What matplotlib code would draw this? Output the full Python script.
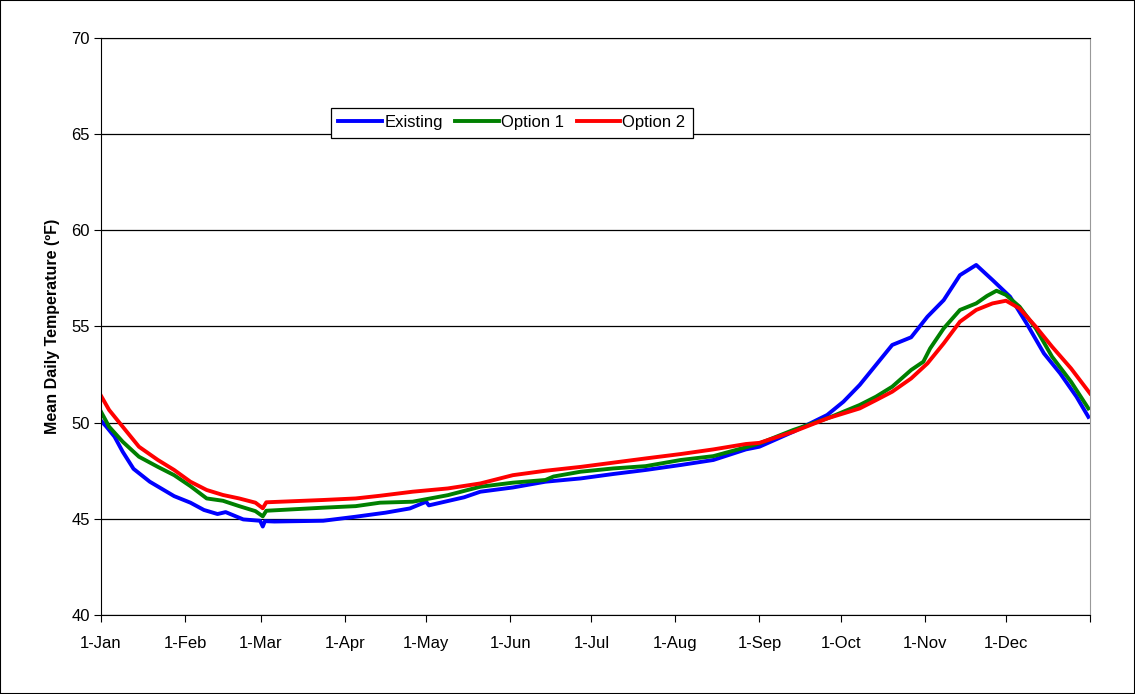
import matplotlib
matplotlib.use("Agg")
import matplotlib.pyplot as plt
from matplotlib.patches import Rectangle

plt.rcParams['font.family'] = ['Liberation Sans', 'DejaVu Sans']

month_days = [0, 31, 59, 90, 120, 151, 181, 212, 243, 273, 304, 334, 365]
month_labels = ["1-Jan", "1-Feb", "1-Mar", "1-Apr", "1-May", "1-Jun", "1-Jul",
                "1-Aug", "1-Sep", "1-Oct", "1-Nov", "1-Dec", ""]

existing_days = [0, 2, 5, 8, 12, 18, 27, 33, 38, 43, 46, 52.5, 58.7, 59.7, 60.5, 64, 82, 94,
                 105, 114, 120, 121, 134, 140, 152, 164, 177, 189, 201, 214, 226, 238, 243,
                 255.5, 268, 274, 280, 286, 292, 299, 305, 311, 317, 323, 329, 335.5, 341.6,
                 348, 354, 360, 364.4]
existing = [50.1, 49.79, 49.27, 48.49, 47.6, 46.93, 46.18, 45.84, 45.46, 45.25, 45.35, 44.97,
            44.9, 44.6, 44.88, 44.86, 44.9, 45.11, 45.32, 45.54, 45.89, 45.7, 46.12, 46.41,
            46.63, 46.93, 47.1, 47.33, 47.54, 47.8, 48.06, 48.61, 48.75, 49.53, 50.4, 51.09,
            51.96, 53.0, 54.04, 54.44, 55.51, 56.37, 57.67, 58.2, 57.42, 56.55, 55.16, 53.6,
            52.56, 51.35, 50.3]

option1_days = [0, 3, 8, 14, 21, 27, 33, 39, 45, 51, 57, 59.7, 61, 82, 94, 103, 115, 128, 140,
                152, 164, 167, 177, 189, 201, 214, 226, 238, 243, 255.5, 268, 280, 286, 292,
                299, 303.5, 306, 311, 317, 323, 327, 330.5, 334, 339, 345, 351, 358, 364.4]
option1 = [50.57, 49.79, 49.01, 48.23, 47.7, 47.27, 46.7, 46.06, 45.94, 45.66, 45.4, 45.13,
           45.42, 45.58, 45.66, 45.84, 45.89, 46.23, 46.67, 46.88, 47.02, 47.2, 47.45, 47.62,
           47.74, 48.06, 48.26, 48.72, 48.92, 49.62, 50.22, 50.92, 51.35, 51.87, 52.74, 53.17,
           53.86, 54.9, 55.86, 56.2, 56.59, 56.86, 56.64, 56.03, 54.9, 53.43, 52.13, 50.74]

option2_days = [0, 3, 8, 14, 21, 27, 33, 39, 45, 51, 57, 59.7, 61, 82, 94, 103, 115, 128, 140,
                152, 164, 177, 189, 201, 214, 226, 238, 243, 255.5, 268, 280, 286, 292, 299,
                305, 311, 317, 323, 329, 334, 339, 345, 351, 358, 365]
option2 = [51.4, 50.66, 49.79, 48.75, 48.06, 47.54, 46.93, 46.5, 46.24, 46.06, 45.84, 45.55,
           45.86, 45.98, 46.06, 46.2, 46.41, 46.58, 46.84, 47.27, 47.5, 47.7, 47.92, 48.14,
           48.37, 48.61, 48.89, 48.95, 49.53, 50.22, 50.74, 51.17, 51.61, 52.3, 53.08, 54.12,
           55.25, 55.86, 56.2, 56.34, 55.94, 54.99, 53.95, 52.82, 51.52]

fig = plt.figure(figsize=(11.35, 6.94), dpi=100)
ax = fig.add_axes([101 / 1135, 1 - 615 / 694, 989 / 1135, 577 / 694])

ax.plot(existing_days, existing, color="#0000ff", lw=2.8, label="Existing")
ax.plot(option1_days, option1, color="#008000", lw=2.8, label="Option 1")
ax.plot(option2_days, option2, color="#ff0000", lw=2.8, label="Option 2")

ax.set_xlim(0, 365)
ax.set_ylim(40, 70)
ax.set_yticks(range(40, 71, 5))
ax.set_xticks(month_days)
ax.set_xticklabels(month_labels)
ax.yaxis.grid(True, color="black", lw=0.9)
ax.set_axisbelow(True)
ax.tick_params(axis="x", direction="out", length=5, pad=10, labelsize=12)
ax.tick_params(axis="y", direction="out", length=5, pad=3, labelsize=12)
for s in ["left", "bottom", "top"]:
    ax.spines[s].set_color("black")
ax.spines["right"].set_color("#999999")
ax.set_ylabel("Mean Daily Temperature (ºF)", fontsize=11.5, fontweight="bold", labelpad=8)

leg = ax.legend(loc="center", bbox_to_anchor=(0.4156, 0.853), ncol=3, fancybox=False,
                edgecolor="black", framealpha=1, fontsize=12, handlelength=2.6,
                handletextpad=0.15, columnspacing=0.75, borderpad=0.45)
leg.get_frame().set_linewidth(0.9)

fig.patches.append(Rectangle((0, 0), 1, 1, transform=fig.transFigure, fill=False,
                             edgecolor="black", lw=1.5))

plt.savefig("out.png", dpi=100)
